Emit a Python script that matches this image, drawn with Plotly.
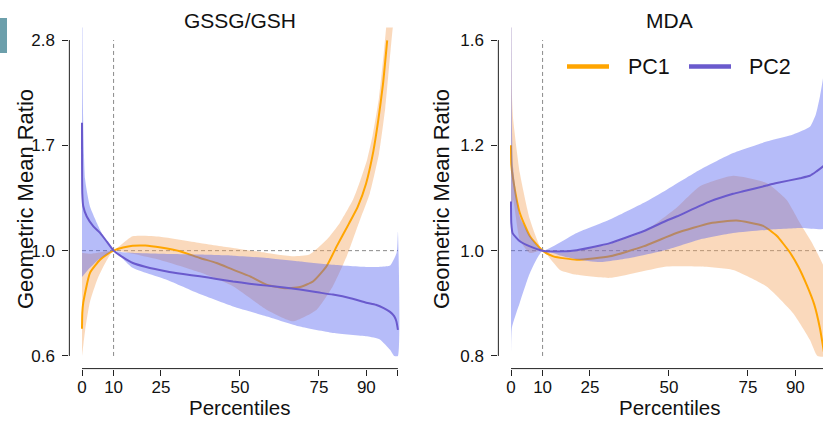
import math
import plotly.graph_objects as go

W, H = 823, 421

# ---------------- data ----------------
pct_ticks = [0, 10, 25, 50, 75, 90, 100]
pct_ticktext = ["0", "10", "25", "50", "75", "90", ""]

# GSSG/GSH panel
gssg_yticks = [0.6, 1.0, 5 / 3, 25 / 9]
gssg_yticktext = ["0.6", "1.0", "1.7", "2.8"]

gssg_pc1_p = [0, 0.1, 0.4, 2.5, 5.7, 7.8, 10, 13, 16, 20, 25, 31, 37.3, 42.6, 47.8, 53.2, 58.4, 63.6, 69, 73.2, 77.4, 80.6, 84.5, 87.3, 89.9, 92.2, 93.8, 95.25, 96.6]
gssg_pc1_v = [0.685, 0.74, 0.777, 0.897, 0.957, 0.981, 1.0, 1.015, 1.024, 1.025, 1.015, 0.997, 0.965, 0.942, 0.912, 0.883, 0.848, 0.834, 0.838, 0.862, 0.927, 1.021, 1.14, 1.238, 1.384, 1.617, 1.888, 2.237, 2.774]
gssg_pc1_up_p = [0, 2.5, 5, 7.5, 10, 16, 24.7, 37.3, 47.8, 58.5, 66.8, 72, 77.5, 81.6, 85.8, 88, 90.2, 92, 94, 95.5, 97, 100]
gssg_pc1_up_v = [0.99, 0.985, 0.99, 0.997, 1.0, 1.072, 1.07, 1.038, 1.013, 0.989, 0.973, 0.981, 1.055, 1.144, 1.281, 1.4, 1.55, 1.75, 2.1, 2.6, 3.3, 4.5]
gssg_pc1_lo_p = [0, 0.5, 1, 2.5, 5, 7.5, 10, 16, 25, 37.3, 47.8, 58.4, 66.8, 74.3, 79.4, 83.8, 88, 91.1, 94, 96, 98.4, 100]
gssg_pc1_lo_v = [0.6, 0.64, 0.68, 0.78, 0.875, 0.945, 1.0, 0.985, 0.955, 0.9, 0.841, 0.751, 0.71, 0.751, 0.841, 0.973, 1.162, 1.32, 1.6, 2.0, 2.96, 3.5]

gssg_pc2_p = [0, 0.1, 0.4, 1.5, 3.6, 5.7, 7.8, 10, 13, 16.1, 20, 26.9, 32, 37.3, 42.6, 47.8, 53, 58.5, 64, 69, 74, 79.4, 85, 90, 93, 95.5, 97.5, 98.8, 99.5, 100]
gssg_pc2_v = [1.86, 1.32, 1.24, 1.18, 1.125, 1.09, 1.046, 1.0, 0.968, 0.942, 0.925, 0.904, 0.893, 0.883, 0.872, 0.861, 0.852, 0.844, 0.836, 0.828, 0.818, 0.808, 0.794, 0.777, 0.769, 0.757, 0.743, 0.728, 0.71, 0.681]
gssg_pc2_up_p = [0, 0.3, 1, 2.5, 5.7, 8, 10, 16, 25, 37.3, 47.8, 58.5, 69, 79.4, 90.2, 95, 97.5, 99.6, 100]
gssg_pc2_up_v = [5.0, 2.0, 1.41, 1.24, 1.107, 1.04, 1.0, 0.99, 0.985, 0.981, 0.976, 0.965, 0.949, 0.934, 0.924, 0.925, 0.93, 0.99, 1.098]
gssg_pc2_lo_p = [0, 2.5, 5, 7.5, 10, 16, 26.8, 37.3, 47.8, 58.5, 69, 79.4, 90.2, 94.3, 97.5, 98.8, 100]
gssg_pc2_lo_v = [0.88, 0.92, 0.955, 0.98, 1.0, 0.92, 0.868, 0.81, 0.763, 0.727, 0.692, 0.671, 0.66, 0.65, 0.618, 0.6, 0.6]

# MDA panel
mda_yticks = [0.8, 1.0, 1.25, 1.5625]
mda_yticktext = ["0.8", "1.0", "1.2", "1.6"]

mda_pc1_p = [0, 0.1, 0.7, 2.8, 6, 10, 13.4, 20.8, 31.3, 41.9, 52.4, 63, 71.4, 79.8, 84.1, 88.3, 91, 93.6, 96, 97.8, 100]
mda_pc1_v = [1.25, 1.2, 1.162, 1.083, 1.031, 1.0, 0.988, 0.981, 0.988, 1.009, 1.038, 1.06, 1.066, 1.054, 1.032, 0.996, 0.966, 0.93, 0.892, 0.848, 0.775]
mda_pc1_up_p = [0, 0.3, 0.7, 2.8, 6, 10, 15.5, 20.8, 31.3, 41.9, 52.4, 59.8, 70.3, 80.9, 87.2, 91.5, 95, 100]
mda_pc1_up_v = [2.0, 1.39, 1.32, 1.179, 1.068, 1.0, 0.995, 1.0, 1.015, 1.04, 1.095, 1.146, 1.172, 1.154, 1.114, 1.06, 1.02, 0.95]
mda_pc1_lo_p = [0, 0.3, 0.7, 2.8, 6, 10, 15.5, 20.8, 31.3, 49.3, 59.8, 70.3, 80.9, 89.3, 94.6, 97, 100]
mda_pc1_lo_v = [0.8, 1.1, 1.114, 1.023, 0.995, 1.0, 0.96, 0.95, 0.944, 0.967, 0.967, 0.96, 0.927, 0.876, 0.828, 0.8, 0.8]

mda_pc2_p = [0, 0.1, 0.5, 2.8, 6, 10, 15.5, 20.8, 28.2, 31.3, 41.9, 49.3, 52.4, 63, 70.3, 73.5, 80.9, 84.1, 91.5, 94.6, 96.7, 98.7, 100]
mda_pc2_v = [1.11, 1.06, 1.038, 1.02, 1.009, 1.0, 0.998, 1.001, 1.011, 1.016, 1.042, 1.066, 1.075, 1.11, 1.128, 1.134, 1.148, 1.154, 1.166, 1.172, 1.183, 1.195, 1.205]
mda_pc2_up_p = [0, 0.3, 0.7, 2.8, 6, 10, 20.8, 31.3, 41.9, 49.3, 59.8, 70.3, 80.9, 89.3, 94.6, 96.5, 97.8, 98.7, 100]
mda_pc2_up_v = [3.0, 1.3, 1.19, 1.075, 1.031, 1.0, 1.038, 1.068, 1.106, 1.138, 1.187, 1.23, 1.26, 1.279, 1.30, 1.335, 1.387, 1.437, 1.55]
mda_pc2_lo_p = [0, 0.3, 2.8, 6, 10, 15.5, 20.8, 28.2, 38, 49.3, 59.8, 70.3, 80.9, 91.5, 100]
mda_pc2_lo_v = [0.8, 0.85, 0.896, 0.954, 1.0, 0.99, 0.982, 0.976, 0.985, 1.002, 1.024, 1.038, 1.045, 1.049, 1.05]

ref_pct = 10
ref_ratio = 1.0

# ---------------- styles ----------------
FONT = "Liberation Sans, Arial, Helvetica, sans-serif"
TXT = "#111111"
ORANGE = "#FFA500"
ORANGE_BAND = "rgba(244,164,96,0.42)"
BLUE = "#6A5ACD"
BLUE_BAND = "rgba(80,95,240,0.42)"
DASH = "#8a8a8a"
SMOOTH = 0.5

# geometry (px) of the two plotting regions
px_per_unit = 3.1593
left_x0 = 82 - 4 * px_per_unit
left_x1 = left_x0 + 108 * px_per_unit
right_x0 = 511 - 4 * px_per_unit
right_x1 = W
plot_top, plot_bot = 27.4, 368.6

fig = go.Figure()


def band(p_up, v_up, p_lo, v_lo, color, xa, ya):
    fig.add_trace(go.Scatter(
        x=list(p_up) + list(p_lo)[::-1], y=list(v_up) + list(v_lo)[::-1],
        fill="toself", fillcolor=color, mode="lines",
        line=dict(width=0, shape="spline", smoothing=SMOOTH),
        hoverinfo="skip", showlegend=False, xaxis=xa, yaxis=ya))


def line(p, v, color, xa, ya, name):
    fig.add_trace(go.Scatter(x=p, y=v, mode="lines", name=name,
                             line=dict(color=color, width=2, shape="spline", smoothing=SMOOTH),
                             showlegend=False, xaxis=xa, yaxis=ya))


def refs(ylo, yhi, xa, ya):
    fig.add_trace(go.Scatter(x=[ref_pct, ref_pct], y=[ylo, yhi], mode="lines",
                             line=dict(color=DASH, width=1, dash="4px,3px"),
                             hoverinfo="skip", showlegend=False, xaxis=xa, yaxis=ya))
    fig.add_trace(go.Scatter(x=[0, 100], y=[ref_ratio, ref_ratio], mode="lines",
                             line=dict(color=DASH, width=1, dash="4px,3px"),
                             hoverinfo="skip", showlegend=False, xaxis=xa, yaxis=ya))


# left panel
refs(gssg_yticks[0], gssg_yticks[-1], "x", "y")
band(gssg_pc1_up_p, gssg_pc1_up_v, gssg_pc1_lo_p, gssg_pc1_lo_v, ORANGE_BAND, "x", "y")
line(gssg_pc1_p, gssg_pc1_v, ORANGE, "x", "y", "PC1")
band(gssg_pc2_up_p, gssg_pc2_up_v, gssg_pc2_lo_p, gssg_pc2_lo_v, BLUE_BAND, "x", "y")
line(gssg_pc2_p, gssg_pc2_v, BLUE, "x", "y", "PC2")

# right panel
refs(mda_yticks[0], mda_yticks[-1], "x2", "y2")
band(mda_pc1_up_p, mda_pc1_up_v, mda_pc1_lo_p, mda_pc1_lo_v, ORANGE_BAND, "x2", "y2")
line(mda_pc1_p, mda_pc1_v, ORANGE, "x2", "y2", "PC1")
band(mda_pc2_up_p, mda_pc2_up_v, mda_pc2_lo_p, mda_pc2_lo_v, BLUE_BAND, "x2", "y2")
line(mda_pc2_p, mda_pc2_v, BLUE, "x2", "y2", "PC2")


def logrange(ticks):
    lo, hi = math.log10(ticks[0]), math.log10(ticks[-1])
    ext = 0.04 * (hi - lo)
    return [lo - ext, hi + ext]


dom_y = [1 - plot_bot / H, 1 - plot_top / H]
right_xmax = -4 + (right_x1 - right_x0) / px_per_unit

tickfont = dict(family=FONT, size=17, color=TXT)
common_x = dict(tickmode="array", tickvals=pct_ticks, ticktext=pct_ticktext, ticks="outside",
                ticklen=6, tickcolor="#222", tickwidth=1, showgrid=False, zeroline=False,
                showline=False, tickfont=tickfont, fixedrange=True, ticklabelstandoff=-3)
common_y = dict(type="log", tickmode="array", ticks="outside", ticklen=6, tickcolor="#222",
                tickwidth=1, showgrid=False, zeroline=False, showline=False, tickfont=tickfont,
                ticklabelstandoff=4)

gssg_r = logrange(gssg_yticks)
mda_r = logrange(mda_yticks)

fig.update_layout(
    width=W, height=H, margin=dict(l=0, r=0, t=0, b=0),
    paper_bgcolor="white", plot_bgcolor="white", showlegend=False,
    xaxis=dict(domain=[left_x0 / W, left_x1 / W], range=[-4, 104], anchor="y", **common_x),
    yaxis=dict(domain=dom_y, range=gssg_r, tickvals=gssg_yticks, ticktext=gssg_yticktext,
               anchor="x", **common_y),
    xaxis2=dict(domain=[right_x0 / W, 1.0], range=[-4, right_xmax], anchor="y2", **common_x),
    yaxis2=dict(domain=dom_y, range=mda_r, tickvals=mda_yticks, ticktext=mda_yticktext,
                anchor="x2", **common_y),
)


def py(v, rng):
    # paper y for a value on a log axis
    f = (math.log10(v) - rng[0]) / (rng[1] - rng[0])
    return dom_y[0] + f * (dom_y[1] - dom_y[0])


def pxp(p, x0):
    return (x0 + (p + 4) * px_per_unit) / W


shapes = []
# detached R-style axis lines
for yt, rng, x0, pmax in [(gssg_yticks, gssg_r, left_x0, 100), (mda_yticks, mda_r, right_x0, right_xmax)]:
    shapes.append(dict(type="line", xref="paper", yref="paper", x0=x0 / W, x1=x0 / W,
                       y0=py(yt[0], rng), y1=py(yt[-1], rng), line=dict(color="#222", width=1)))
    shapes.append(dict(type="line", xref="paper", yref="paper", x0=pxp(0, x0), x1=min(pxp(pmax, x0), 1.0),
                       y0=dom_y[0], y1=dom_y[0], line=dict(color="#222", width=1)))
# teal crop mark at top-left
shapes.append(dict(type="rect", xref="paper", yref="paper", x0=0, x1=7 / W, y0=1 - 53 / H, y1=1 - 18 / H,
                   fillcolor="#6C9FAB", line=dict(width=0)))
# legend swatches
for (xa, xb, col) in [(567, 609, ORANGE), (689, 731, BLUE)]:
    shapes.append(dict(type="line", xref="paper", yref="paper", x0=xa / W, x1=xb / W,
                       y0=1 - 66.5 / H, y1=1 - 66.5 / H, line=dict(color=col, width=4.5)))

annotations = []


def ann(text, x, y, size, angle=0, xanchor="center"):
    annotations.append(dict(text=text, x=x / W, y=1 - y / H, xref="paper", yref="paper",
                            showarrow=False, textangle=angle, xanchor=xanchor, yanchor="middle",
                            borderpad=0, font=dict(family=FONT, size=size, color=TXT)))


ann("GSSG/GSH", 240, 20, 21)
ann("MDA", 669, 20, 21)
ann("Geometric Mean Ratio", 25, 199, 22, angle=-90)
ann("Geometric Mean Ratio", 441, 199, 22, angle=-90)
ann("Percentiles", 240, 407.5, 20.5)
ann("Percentiles", 669, 407.5, 20.5)
ann("PC1", 627, 67, 21.5, xanchor="left")
ann("PC2", 748, 67, 21.5, xanchor="left")

fig.update_layout(shapes=shapes, annotations=annotations)
fig.write_html("out.html")
